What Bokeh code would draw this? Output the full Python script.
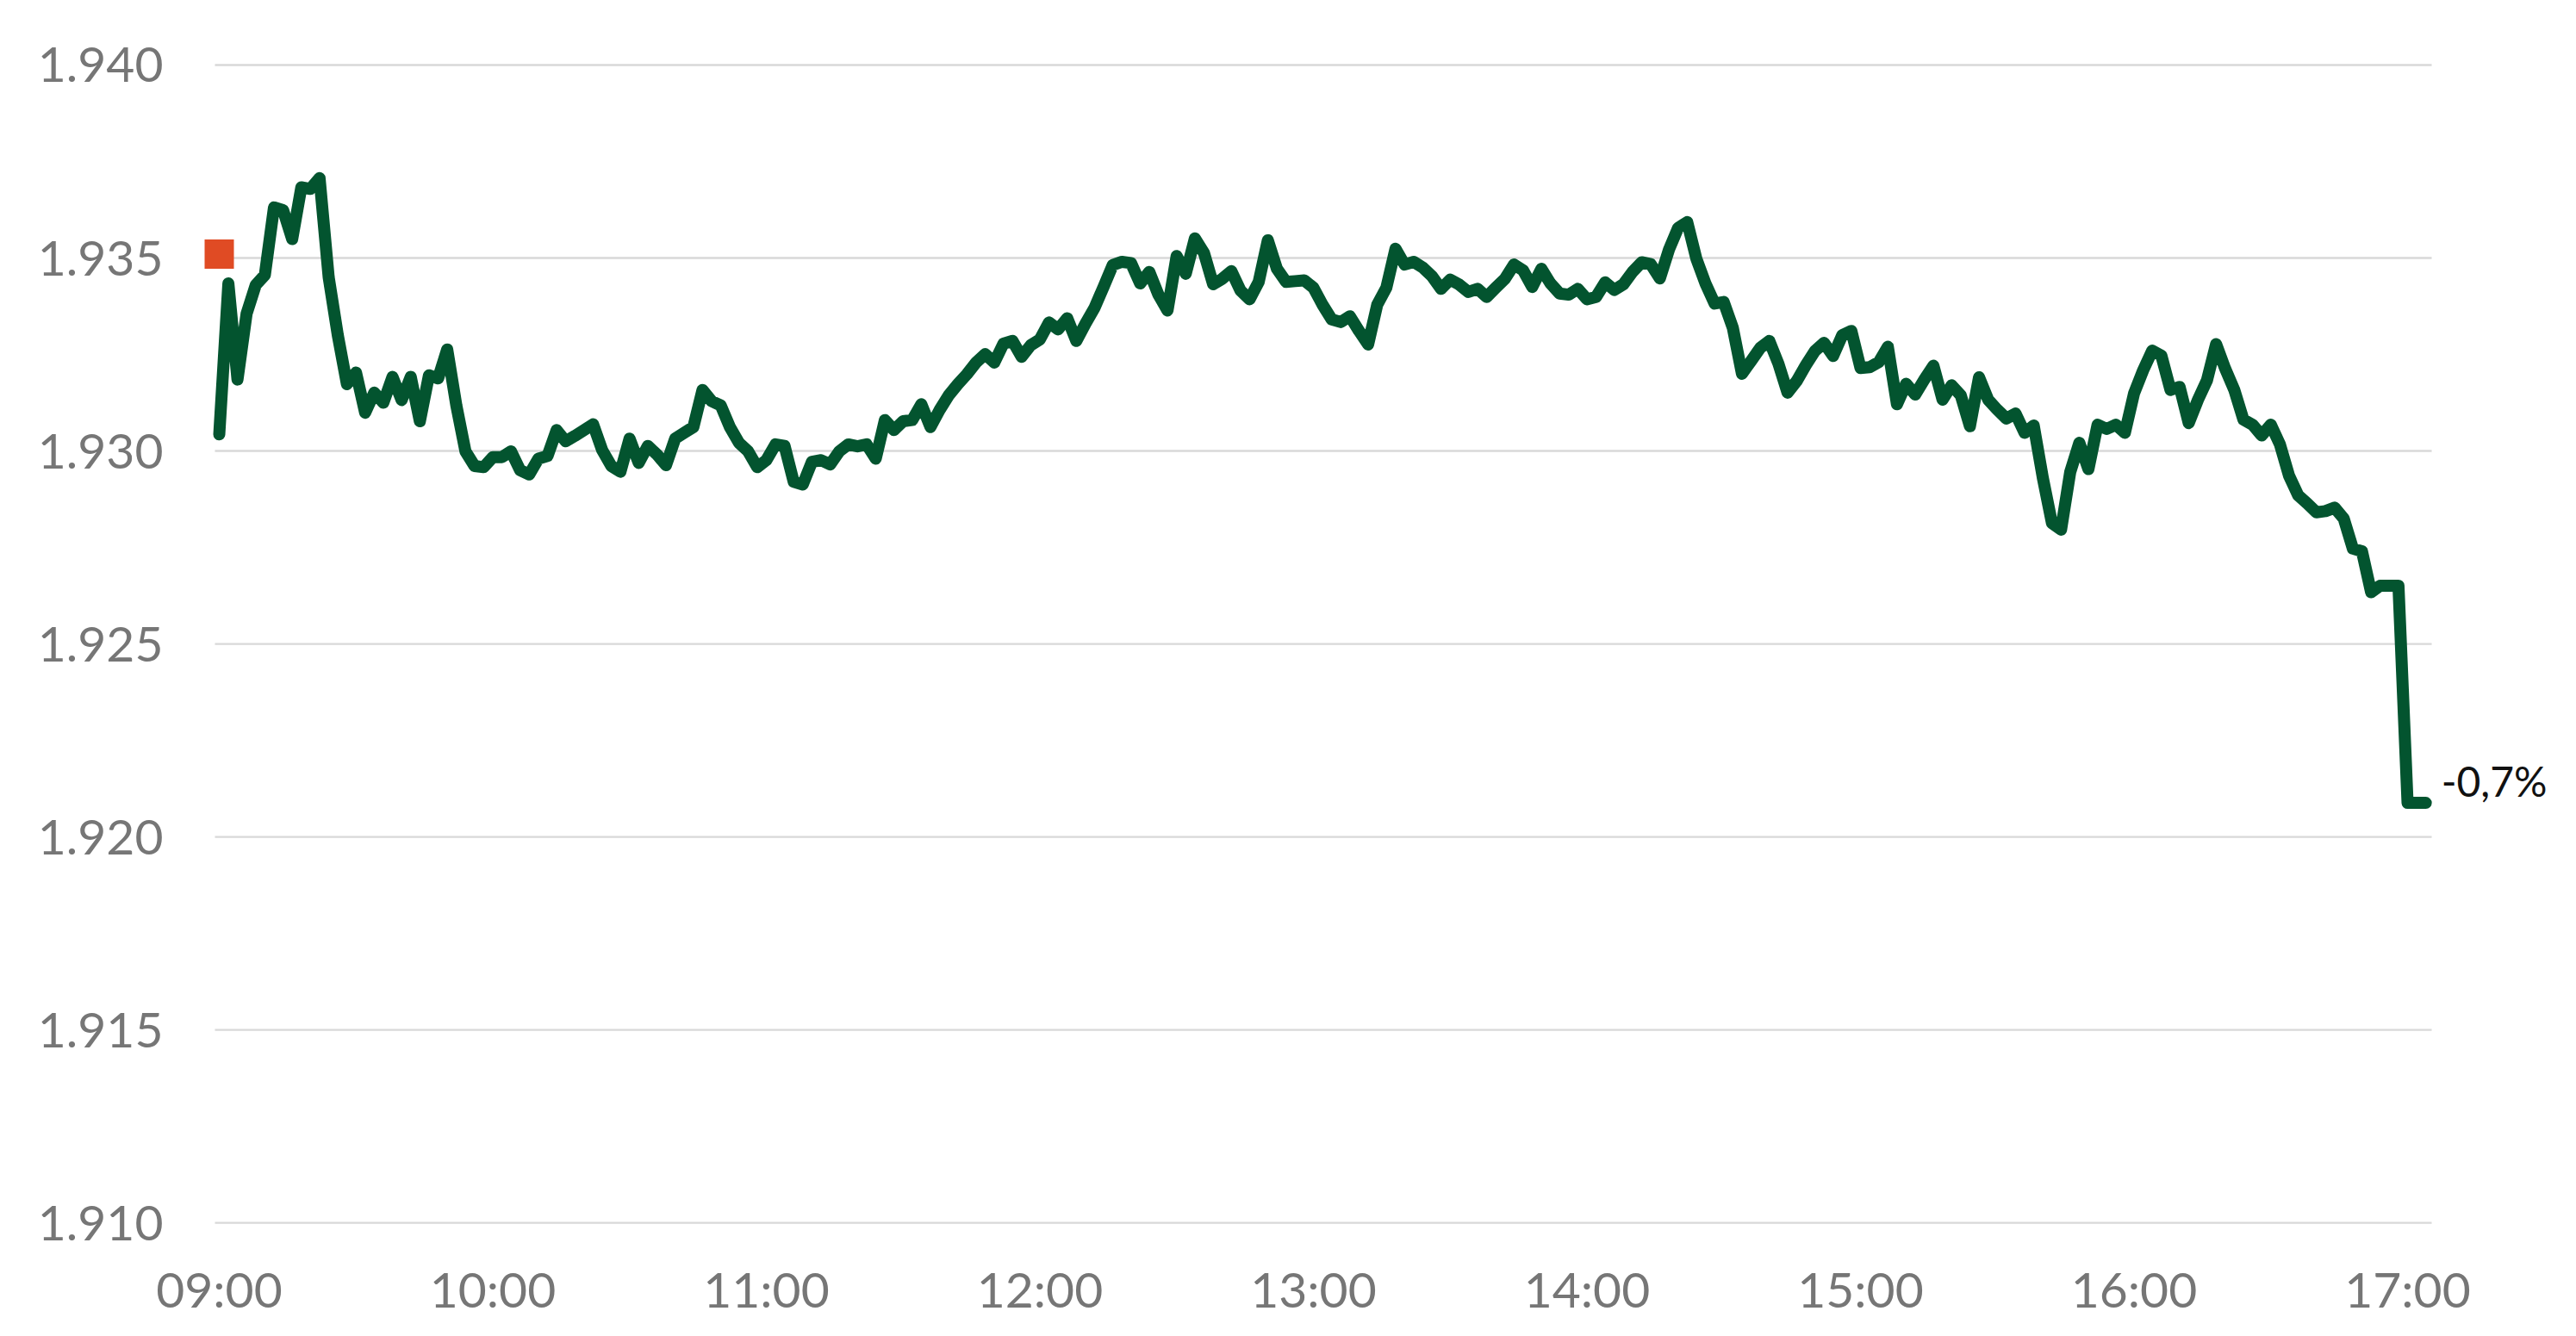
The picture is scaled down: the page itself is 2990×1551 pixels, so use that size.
from bokeh.plotting import figure
from bokeh.models import Range1d, FixedTicker
from bokeh.core.properties import value
from bokeh.embed import file_html
from bokeh.resources import INLINE

# ---- data -------------------------------------------------------------
prices = [
    1.93043, 1.93434, 1.93185, 1.93356, 1.93430, 1.93456, 1.93631, 1.93624, 1.93549, 1.93683,
    1.93679, 1.93707, 1.93450, 1.93300, 1.93173, 1.93203, 1.93099, 1.93151, 1.93125, 1.93192,
    1.93132, 1.93192, 1.93077, 1.93196, 1.93188, 1.93263, 1.93118, 1.92999, 1.92961, 1.92958,
    1.92984, 1.92984, 1.92999, 1.92950, 1.92939, 1.92980, 1.92987, 1.93054, 1.93025, 1.93039,
    1.93054, 1.93069, 1.93002, 1.92961, 1.92946, 1.93032, 1.92969, 1.93013, 1.92991, 1.92963,
    1.93032, 1.93047, 1.93062, 1.93158, 1.93129, 1.93118, 1.93062, 1.93021, 1.92999, 1.92958,
    1.92976, 1.93017, 1.93013, 1.92920, 1.92913, 1.92972, 1.92976, 1.92965, 1.92999, 1.93017,
    1.93012, 1.93017, 1.92980, 1.93080, 1.93054, 1.93077, 1.93080, 1.93121, 1.93062, 1.93106,
    1.93144, 1.93173, 1.93199, 1.93229, 1.93251, 1.93229, 1.93278, 1.93285, 1.93244, 1.93274,
    1.93289, 1.93333, 1.93315, 1.93344, 1.93285, 1.93330, 1.93371, 1.93426, 1.93482, 1.93490,
    1.93487, 1.93434, 1.93464, 1.93405, 1.93364, 1.93505, 1.93459, 1.93551, 1.93513, 1.93432,
    1.93446, 1.93466, 1.93416, 1.93393, 1.93438, 1.93546, 1.93472, 1.93438, 1.93440, 1.93442,
    1.93423, 1.93379, 1.93341, 1.93334, 1.93349, 1.93311, 1.93276, 1.93379, 1.93423, 1.93524,
    1.93483, 1.93490, 1.93475, 1.93453, 1.93420, 1.93444, 1.93431, 1.93412, 1.93420, 1.93399,
    1.93423, 1.93446, 1.93483, 1.93468, 1.93425, 1.93472, 1.93434, 1.93408, 1.93405, 1.93420,
    1.93393, 1.93399, 1.93437, 1.93417, 1.93432, 1.93464, 1.93489, 1.93484, 1.93447, 1.93522,
    1.93578, 1.93593, 1.93498, 1.93434, 1.93382, 1.93386, 1.93319, 1.93200, 1.93233, 1.93267,
    1.93285, 1.93226, 1.93151, 1.93181, 1.93222, 1.93259, 1.93280, 1.93246, 1.93300, 1.93311,
    1.93215, 1.93217, 1.93230, 1.93270, 1.93121, 1.93174, 1.93146, 1.93185, 1.93221, 1.93133,
    1.93170, 1.93144, 1.93064, 1.93191, 1.93133, 1.93107, 1.93084, 1.93097, 1.93047, 1.93066,
    1.92930, 1.92813, 1.92796, 1.92945, 1.93021, 1.92953, 1.93068, 1.93057, 1.93068, 1.93047,
    1.93149, 1.93209, 1.93260, 1.93247, 1.93158, 1.93166, 1.93072, 1.93132, 1.93183, 1.93277,
    1.93213, 1.93158, 1.93081, 1.93068, 1.93040, 1.93068, 1.93017, 1.92936, 1.92885, 1.92864,
    1.92841, 1.92844, 1.92853, 1.92825, 1.92747, 1.92740, 1.92634, 1.92651, 1.92651, 1.92651,
    1.92088, 1.92088, 1.92088,
]
# time of each price in hours, one every 2 minutes from 09:00
step_minutes = 2
times = [9 + step_minutes * i / 60 for i in range(len(prices))]

prev_close = 1.9351  # previous close marker at 09:00
prev_close_time = 9.0

y_ticks = [1.910, 1.915, 1.920, 1.925, 1.930, 1.935, 1.940]
y_tick_labels = ["1.910", "1.915", "1.920", "1.925", "1.930", "1.935", "1.940"]
x_ticks = [9, 10, 11, 12, 13, 14, 15, 16, 17]
x_tick_labels = ["09:00", "10:00", "11:00", "12:00", "13:00", "14:00", "15:00", "16:00", "17:00"]

change_pct = (prices[-1] / prev_close - 1) * 100
change_label = f"{change_pct:.1f}%".replace(".", ",")

# ---- layout -----------------------------------------------------------
FONT = "Lato"
GREY = "#767676"
PX_PER_HOUR = 317.5
FRAME_W = 2740
X0, X1 = 9 - 28 / PX_PER_HOUR, 9 + (FRAME_W - 28) / PX_PER_HOUR   # frame extent
GRID_X0, GRID_X1 = 9 - 5 / PX_PER_HOUR, 9 + 2568 / PX_PER_HOUR    # grid line extent

p = figure(
    width=2970, height=1535,
    output_backend="svg", toolbar_location=None,
    x_range=Range1d(X0, X1),
    y_range=Range1d(1.9096, 1.94029),
    min_border_left=226, min_border_right=2970 - 226 - FRAME_W,
    min_border_top=62, min_border_bottom=98,
    background_fill_color="white", border_fill_color="white",
)
p.outline_line_color = None

for ax in (p.xaxis[0], p.yaxis[0]):
    ax.axis_line_color = None
    ax.major_tick_line_color = None
    ax.minor_tick_line_color = None
    ax.major_tick_out = 0
    ax.major_tick_in = 0
    ax.major_label_text_font = FONT
    ax.major_label_text_font_size = "57px"
    ax.major_label_text_color = GREY

p.yaxis.ticker = FixedTicker(ticks=y_ticks)
p.yaxis.major_label_overrides = dict(zip(y_ticks, y_tick_labels))
p.yaxis.major_label_standoff = 37

p.xaxis.ticker = FixedTicker(ticks=x_ticks)
p.xaxis.major_label_overrides = dict(zip(x_ticks, x_tick_labels))
p.xaxis.major_label_standoff = 24

p.xgrid.grid_line_color = None
p.ygrid.grid_line_color = None

# horizontal grid lines over the time span only
p.segment(x0=[GRID_X0] * len(y_ticks), x1=[GRID_X1] * len(y_ticks),
          y0=y_ticks, y1=y_ticks, line_color="#d8d8d8", line_width=2.3)

# price line
p.line(times, prices, line_color="#03542F", line_width=14,
       line_join="round", line_cap="round")

# previous close marker
p.scatter([prev_close_time], [prev_close], marker="square", size=34,
          fill_color="#E04B24", line_color=None)

# end label
p.text(x=[times[-1]], y=[prices[-1]], text=[change_label],
       x_offset=18, y_offset=-26,
       text_font=value(FONT), text_font_size="48px", text_color="#111111",
       text_align="left", text_baseline="middle")

open("out.html", "w").write(file_html(p, INLINE))
